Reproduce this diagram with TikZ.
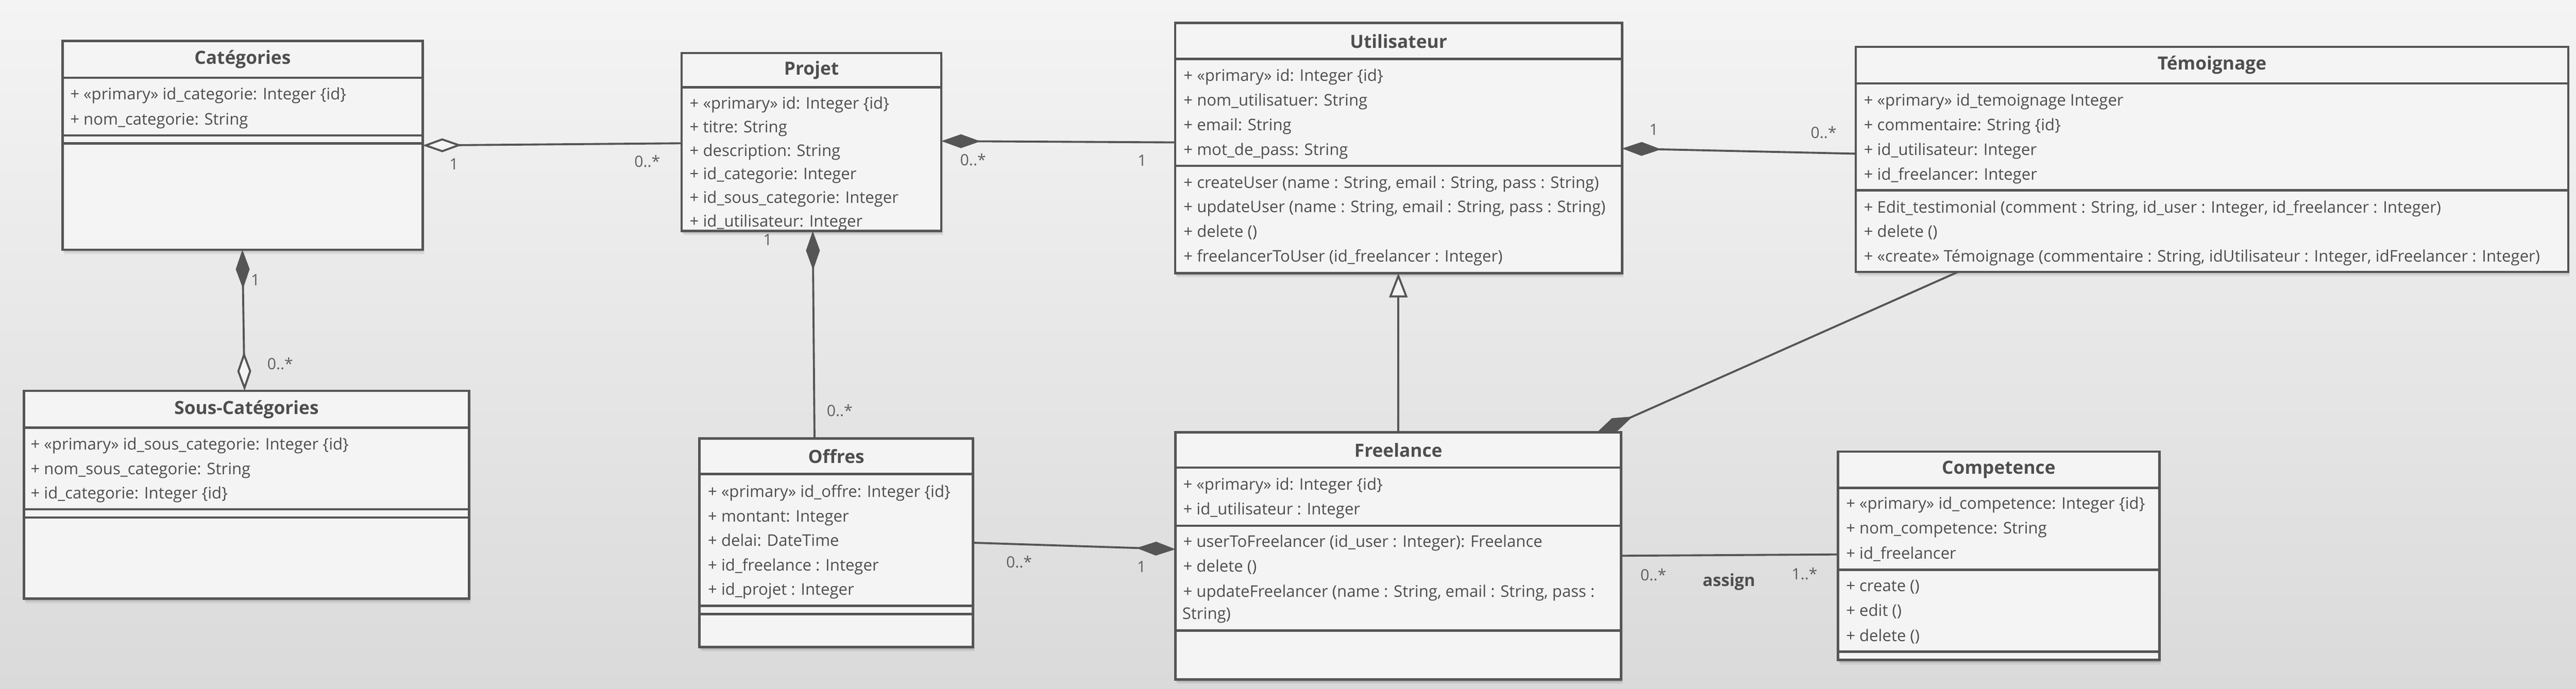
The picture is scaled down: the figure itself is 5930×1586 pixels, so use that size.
\documentclass[tikz,border=0pt]{standalone}
\usepackage{fontspec}
\setmainfont{Open Sans}
\usetikzlibrary{arrows.meta,fit,shadows}
\definecolor{ink}{HTML}{555555}
\definecolor{txt}{HTML}{4E4E4E}
\definecolor{multc}{HTML}{5E5E5E}
\definecolor{boxfill}{HTML}{F4F4F4}
\definecolor{bgtop}{HTML}{F4F4F4}
\definecolor{bgbot}{HTML}{DADADA}
\tikzset{
  classbox/.style={draw=ink, fill=boxfill, line width=1.55pt, inner sep=0pt, outer sep=0pt,
    drop shadow={shadow xshift=0.6pt, shadow yshift=-1.8pt, opacity=0.10, fill=black},
    drop shadow={shadow xshift=1.2pt, shadow yshift=-3pt, opacity=0.06, fill=black}},
  sepline/.style={draw=ink, line width=1.55pt},
  ctitle/.style={font=\bfseries\fontsize{11.9}{13}\selectfont, text=txt, inner sep=0pt},
  member/.style={font=\fontsize{10.5}{12}\selectfont, text=txt, anchor=base west, inner sep=0pt},
  mult/.style={font=\fontsize{10.2}{12}\selectfont, text=multc, inner sep=0pt},
  assoclbl/.style={font=\bfseries\fontsize{11}{12}\selectfont, text=txt, inner sep=0pt},
  conn/.style={draw=ink, line width=1.3pt},
  CompTip/.tip={Diamond[length=0.9cm, width=0.32cm]},
  AggTip/.tip={Diamond[open, fill=boxfill, length=0.9cm, width=0.32cm]},
  GenTip/.tip={Triangle[open, fill=boxfill, length=0.56cm, width=0.42cm]},
}
\newcommand\classmembers[5]{%
  \foreach \t [count=\i] in {#5} {\node[member] (#1-\i) at (#2, {#3+12+(\i-1)*#4}) {\t};}%
}
\begin{document}
\begin{tikzpicture}[x=0.01cm, y=-0.01cm]
\useasboundingbox (0,0) rectangle (5930,1586);
\shade[top color=bgtop, bottom color=bgbot] (0,0) rectangle (5930,1586);

% ---------------- Categories
\node[classbox, fit={(144,94) (973,575)}] (cat) {};
\draw[sepline] (cat.west |- 0,179) -- (cat.east |- 0,179);
\draw[sepline] (cat.west |- 0,312) -- (cat.east |- 0,312);
\draw[sepline] (cat.west |- 0,330) -- (cat.east |- 0,330);
\node[ctitle] (cat-t) at (cat.north |- 0,137) {Catégories};
\classmembers{cata}{161}{217}{59}{{+ «primary» id\_categorie: Integer \{id\}}, {+ nom\_categorie: String}}

% ---------------- Sous-Categories
\node[classbox, fit={(55,900) (1080,1379)}] (sous) {};
\draw[sepline] (sous.west |- 0,985) -- (sous.east |- 0,985);
\draw[sepline] (sous.west |- 0,1173) -- (sous.east |- 0,1173);
\draw[sepline] (sous.west |- 0,1192) -- (sous.east |- 0,1192);
\node[ctitle] (sous-t) at (sous.north |- 0,943) {Sous-Catégories};
\classmembers{sousa}{70}{1024}{56.5}{{+ «primary» id\_sous\_categorie: Integer \{id\}}, {+ nom\_sous\_categorie: String}, {+ id\_categorie: Integer \{id\}}}

% ---------------- Projet
\node[classbox, fit={(1569,122) (2167,532)}] (proj) {};
\draw[sepline] (proj.west |- 0,201) -- (proj.east |- 0,201);
\node[ctitle] (proj-t) at (proj.north |- 0,162) {Projet};
\classmembers{proja}{1587}{239}{54.2}{{+ «primary» id: Integer \{id\}}, {+ titre: String}, {+ description: String}, {+ id\_categorie: Integer}, {+ id\_sous\_categorie: Integer}, {+ id\_utilisateur: Integer}}

% ---------------- Offres
\node[classbox, fit={(1610,1010) (2240,1490)}] (offres) {};
\draw[sepline] (offres.west |- 0,1092) -- (offres.east |- 0,1092);
\draw[sepline] (offres.west |- 0,1395) -- (offres.east |- 0,1395);
\draw[sepline] (offres.west |- 0,1414) -- (offres.east |- 0,1414);
\node[ctitle] (offres-t) at (offres.north |- 0,1051) {Offres};
\classmembers{offa}{1629}{1133}{56.5}{{+ «primary» id\_offre: Integer \{id\}}, {+ montant: Integer}, {+ delai: DateTime}, {+ id\_freelance : Integer}, {+ id\_projet : Integer}}

% ---------------- Utilisateur
\node[classbox, fit={(2705,53) (3734,629)}] (user) {};
\draw[sepline] (user.west |- 0,136) -- (user.east |- 0,136);
\draw[sepline] (user.west |- 0,382) -- (user.east |- 0,382);
\node[ctitle] (user-t) at (user.north |- 0,95) {Utilisateur};
\classmembers{usera}{2724}{175}{56.7}{{+ «primary» id: Integer \{id\}}, {+ nom\_utilisatuer: String}, {+ email: String}, {+ mot\_de\_pass: String}}
\classmembers{usero}{2724}{421}{56.7}{{+ createUser (name : String, email : String, pass : String)}, {+ updateUser (name : String, email : String, pass : String)}, {+ delete ()}, {+ freelancerToUser (id\_freelancer : Integer)}}

% ---------------- Temoignage
\node[classbox, fit={(4272,108) (5912,626)}] (temo) {};
\draw[sepline] (temo.west |- 0,192) -- (temo.east |- 0,192);
\draw[sepline] (temo.west |- 0,438) -- (temo.east |- 0,438);
\node[ctitle] (temo-t) at (temo.north |- 0,150) {Témoignage};
\classmembers{temoa}{4290}{232}{57}{{+ «primary» id\_temoignage Integer}, {+ commentaire: String \{id\}}, {+ id\_utilisateur: Integer}, {+ id\_freelancer: Integer}}
\classmembers{temoo}{4290}{478}{56.5}{{+ Edit\_testimonial (comment : String, id\_user : Integer, id\_freelancer : Integer)}, {+ delete ()}, {+ «create» Témoignage (commentaire : String, idUtilisateur : Integer, idFreelancer : Integer)}}

% ---------------- Freelance
\node[classbox, fit={(2706,996) (3732,1565)}] (free) {};
\draw[sepline] (free.west |- 0,1077) -- (free.east |- 0,1077);
\draw[sepline] (free.west |- 0,1211) -- (free.east |- 0,1211);
\draw[sepline] (free.west |- 0,1452) -- (free.east |- 0,1452);
\node[ctitle] (free-t) at (free.north |- 0,1037) {Freelance};
\classmembers{freea}{2723}{1116}{57}{{+ «primary» id: Integer \{id\}}, {+ id\_utilisateur : Integer}}
\classmembers{freeo}{2723}{1248}{57.5}{{+ userToFreelancer (id\_user : Integer): Freelance}, {+ delete ()}, {+ updateFreelancer (name : String, email : String, pass :}}
\node[member] (freeo-4) at (2721, 1426) {String)};

% ---------------- Competence
\node[classbox, fit={(4231,1040) (4971,1520)}] (comp) {};
\draw[sepline] (comp.west |- 0,1124) -- (comp.east |- 0,1124);
\draw[sepline] (comp.west |- 0,1312) -- (comp.east |- 0,1312);
\draw[sepline] (comp.west |- 0,1501) -- (comp.east |- 0,1501);
\node[ctitle] (comp-t) at (comp.north |- 0,1082) {Competence};
\classmembers{compa}{4249}{1160}{57.5}{{+ «primary» id\_competence: Integer \{id\}}, {+ nom\_competence: String}, {+ id\_freelancer}}
\classmembers{compo}{4249}{1350}{57.5}{{+ create ()}, {+ edit ()}, {+ delete ()}}

% ---------------- Connectors
% Categories - Projet (aggregation)
\draw[conn, {AggTip}-] (cat.east |- 0,335) -- (proj.west |- 0,330);
\node[mult] (m-cp1) at (1045,378) {1};
\node[mult] (m-cp2) at (1490,372) {0..*};

% Categories - Sous-Categories
\draw[conn, {CompTip}-{AggTip}] (cat.south -| 558,0) -- (sous.north -| 563,0);
\node[mult] (m-cs1) at (588,645) {1};
\node[mult] (m-cs2) at (645,838) {0..*};

% Projet - Utilisateur
\draw[conn, {CompTip}-] (proj.east |- 0,325) -- (user.west |- 0,328);
\node[mult] (m-pu1) at (2240,368) {0..*};
\node[mult] (m-pu2) at (2629,370) {1};

% Projet - Offres
\draw[conn, {CompTip}-] (proj.south -| 1871,0) -- (offres.north -| 1875,0);
\node[mult] (m-po1) at (1767,552) {1};
\node[mult] (m-po2) at (1933,945) {0..*};

% Utilisateur - Temoignage
\draw[conn, {CompTip}-] (user.east |- 0,342) -- (temo.west |- 0,354);
\node[mult] (m-ut1) at (3807,298) {1};
\node[mult] (m-ut2) at (4198,305) {0..*};

% Freelance -> Utilisateur (generalization)
\draw[conn, -{GenTip}] (free.north -| 3219,0) -- (user.south -| 3219,0);

% Freelance - Temoignage
\draw[conn, {CompTip}-] (free.north -| 3676,0) -- (temo.south -| 4508,0);

% Offres - Freelance
\draw[conn, -{CompTip}] (offres.east |- 0,1250) -- (free.west |- 0,1265);
\node[mult] (m-of1) at (2346,1294) {0..*};
\node[mult] (m-of2) at (2628,1305) {1};

% Freelance - Competence (assign)
\draw[conn] (free.east |- 0,1280) -- (comp.west |- 0,1277);
\node[mult] (m-fc1) at (3806,1324) {0..*};
\node[assoclbl] (assign) at (3980,1340) {assign};
\node[mult] (m-fc2) at (4154,1321) {1..*};
\end{tikzpicture}
\end{document}
